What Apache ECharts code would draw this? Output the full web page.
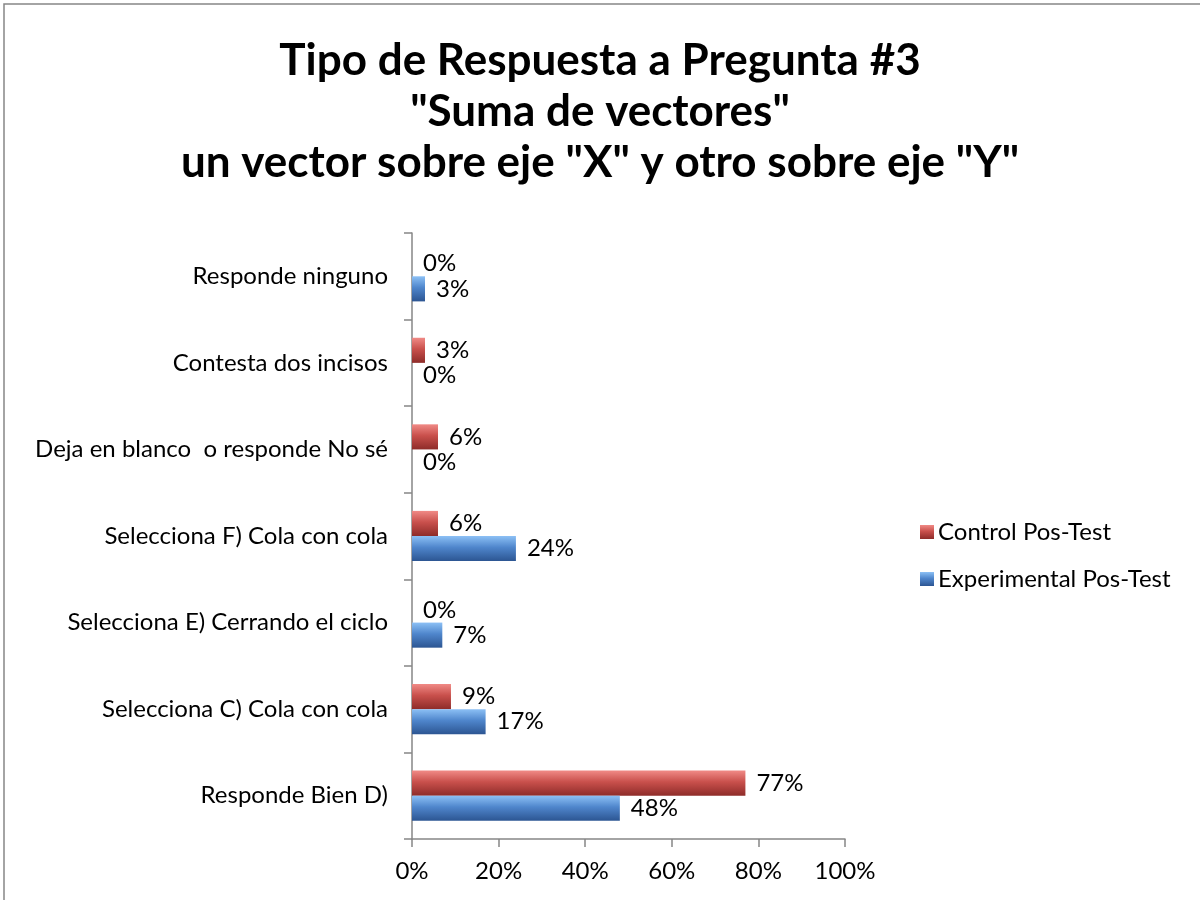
<!DOCTYPE html>
<html>
<head>
<meta charset="utf-8">
<script src="https://cdn.jsdelivr.net/npm/echarts@6/dist/echarts.min.js"></script>
<style>
  html, body { margin: 0; padding: 0; background: #fff; }
  #chart { width: 1200px; height: 900px; }
</style>
</head>
<body>
<div id="chart"></div>
<script>
const titleLines = ['Tipo de Respuesta a Pregunta #3', '"Suma de vectores"', 'un vector sobre eje "X" y otro sobre eje "Y"'];
const categories = [
  'Responde Bien D)',
  'Selecciona C) Cola con cola',
  'Selecciona E) Cerrando el ciclo',
  'Selecciona F) Cola con cola',
  'Deja en blanco  o responde No sé',
  'Contesta dos incisos',
  'Responde ninguno'
];
const controlValues = [77, 9, 0, 6, 6, 3, 0];
const experimentalValues = [48, 17, 7, 24, 0, 0, 3];
const xTicks = [0, 20, 40, 60, 80, 100];

const FONT = 'Lato';

// bevel-ish look of the old Office bars
const bevel = (top, mid, bottom) => new echarts.graphic.LinearGradient(0, 0, 0, 1, [
  { offset: 0, color: top },
  { offset: 0.45, color: mid },
  { offset: 1, color: bottom }
]);

const barLabel = {
  show: true,
  position: 'right',
  distance: 11,
  formatter: (p) => p.value + '%',
  fontFamily: FONT,
  fontSize: 24,
  color: '#000'
};

const chart = echarts.init(document.getElementById('chart'));
chart.setOption({
  animation: false,
  textStyle: { fontFamily: FONT },
  graphic: [{
    type: 'rect',
    shape: { x: 4, y: 4, width: 1200, height: 900 },
    style: { fill: 'none', stroke: '#868686', lineWidth: 1.5 },
    silent: true
  }],
  title: {
    text: titleLines.join('\n'),
    left: 'center',
    top: 30,
    textStyle: { fontFamily: FONT, fontSize: 44, fontWeight: 'bold', color: '#000', lineHeight: 51 }
  },
  legend: {
    orient: 'vertical',
    left: 915,
    top: 515,
    itemGap: 23,
    itemWidth: 14,
    itemHeight: 14,
    icon: 'rect',
    data: ['Control Pos-Test', 'Experimental Pos-Test'],
    textStyle: { fontFamily: FONT, fontSize: 24, color: '#000', padding: [0, 0, 0, -1] }
  },
  grid: { left: 412, right: 355, top: 233, bottom: 61, containLabel: false },
  xAxis: {
    type: 'value',
    min: xTicks[0],
    max: xTicks[xTicks.length - 1],
    interval: 20,
    splitLine: { show: false },
    axisLine: { show: true, lineStyle: { color: '#868686', width: 1.5 } },
    axisTick: { show: true, length: 8, lineStyle: { color: '#868686', width: 1.5 } },
    axisLabel: { formatter: '{value}%', margin: 20, fontFamily: FONT, fontSize: 24, color: '#000' }
  },
  yAxis: {
    type: 'category',
    data: categories,
    axisLine: { show: true, lineStyle: { color: '#868686', width: 1.5 } },
    axisTick: { show: true, length: 8, lineStyle: { color: '#868686', width: 1.5 } },
    axisLabel: { margin: 24, fontFamily: FONT, fontSize: 24, color: '#000' }
  },
  series: [
    {
      name: 'Control Pos-Test',
      type: 'bar',
      data: controlValues,
      barGap: '0%',
      barCategoryGap: '42%',
      itemStyle: { color: bevel('#f08a86', '#c9504c', '#8e2c29') },
      label: barLabel
    },
    {
      name: 'Experimental Pos-Test',
      type: 'bar',
      data: experimentalValues,
      barGap: '0%',
      barCategoryGap: '42%',
      itemStyle: { color: bevel('#8cc0f5', '#4f86cc', '#2c5592') },
      label: barLabel
    }
  ]
});
</script>
</body>
</html>
